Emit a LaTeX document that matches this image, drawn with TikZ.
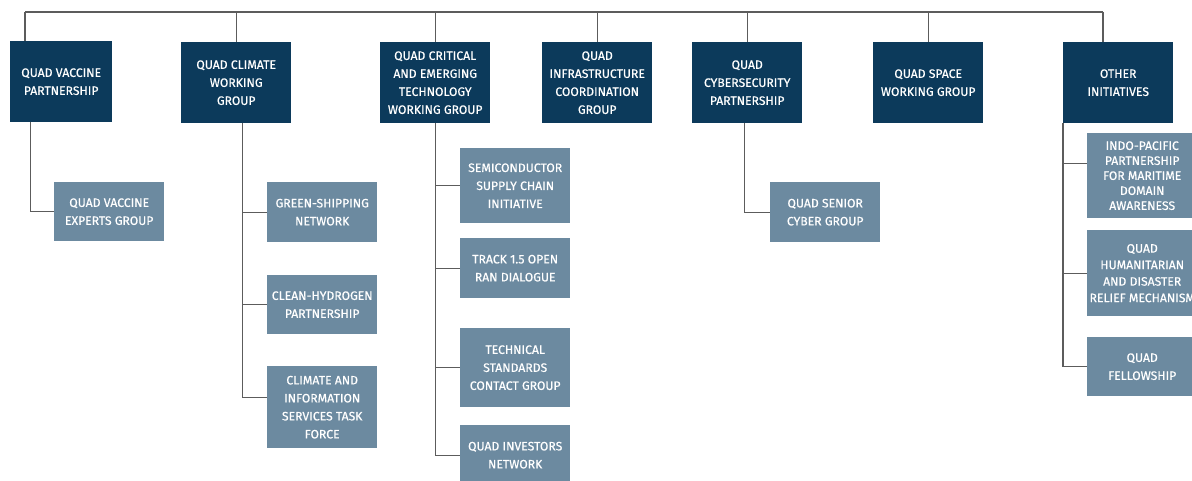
\documentclass[tikz,border=0pt]{standalone}
\usepackage{fontspec}
\setmainfont{Fira Sans}[FakeBold=0.5]
\usetikzlibrary{positioning}
\definecolor{quadnavy}{HTML}{0C3A5B}
\definecolor{quadslate}{HTML}{6C8AA0}
\definecolor{quadline}{HTML}{5C5C5C}

\begin{document}
\begin{tikzpicture}[
    x=1pt, y=-1pt,
    box/.style={%
      rectangle,
      anchor=north west,
      inner sep=0pt,
      align=center,
      text=white,
      font=\fontsize{12.2}{18}\selectfont,
    },
    topbox/.style={box, fill=quadnavy, minimum width=110, minimum height=81},
    subbox/.style={box, fill=quadslate, minimum width=110},
    link/.style={draw=quadline, line width=1.3pt},
  ]
    \useasboundingbox (0,0) rectangle (1192,481);
    \clip (0,0) rectangle (1192,481);

    % top level groups
    \node [topbox, minimum width=102] (vacc) at (10,41) {QUAD VACCINE\\PARTNERSHIP};
    \node [topbox] (clim) at (181,42) {QUAD CLIMATE\\WORKING\\GROUP};
    \node [topbox] (cet) at (380,42) {QUAD CRITICAL\\AND EMERGING\\TECHNOLOGY\\WORKING GROUP};
    \node [topbox] (infra) at (542,42) {QUAD\\INFRASTRUCTURE\\COORDINATION\\GROUP};
    \node [topbox] (cyber) at (692,42) {QUAD\\CYBERSECURITY\\PARTNERSHIP};
    \node [topbox] (space) at (873,42) {QUAD SPACE\\WORKING GROUP};
    \node [topbox] (other) at (1063,42) {OTHER\\INITIATIVES};

    % sub groups
    \node [subbox, minimum height=59] (vexp) at (54,182) {QUAD VACCINE\\EXPERTS GROUP};
    \node [subbox, minimum height=60] (gsn) at (267,182) {GREEN-SHIPPING\\NETWORK};
    \node [subbox, minimum height=59] (chp) at (267,275) {CLEAN-HYDROGEN\\PARTNERSHIP};
    \node [subbox, minimum height=82] (cis) at (267,366) {CLIMATE AND\\INFORMATION\\SERVICES TASK\\FORCE};
    \node [subbox, minimum height=75] (semi) at (460,148) {SEMICONDUCTOR\\SUPPLY CHAIN\\INITIATIVE};
    \node [subbox, minimum height=60] (ran) at (460,238) {TRACK 1.5 OPEN\\RAN DIALOGUE};
    \node [subbox, minimum height=79] (tscg) at (460,328) {TECHNICAL\\STANDARDS\\CONTACT GROUP};
    \node [subbox, minimum height=60] (inv) at (460,425) {QUAD INVESTORS\\NETWORK};
    \node [subbox, minimum height=60] (csg) at (770,182) {QUAD SENIOR\\CYBER GROUP};
    \node [subbox, minimum height=85, font=\fontsize{12.2}{15}\selectfont] (mda) at (1087,133) {INDO-PACIFIC\\PARTNERSHIP\\FOR MARITIME\\DOMAIN\\AWARENESS};
    \node [subbox, minimum height=86, font=\fontsize{12.2}{16.5}\selectfont] (hadr) at (1087,230) {QUAD\\HUMANITARIAN\\AND DISASTER\\RELIEF MECHANISM};
    \node [subbox, minimum height=59] (fell) at (1087,337) {QUAD\\FELLOWSHIP};

    % top bar
    \coordinate (barL) at (25,12);
    \coordinate (barR) at (1103,12);
    \draw [link] (barL) -- (barR);
    \draw [link] (barL) -- (barL |- vacc.north);
    \foreach \n in {clim,cet,infra,cyber,space}
      \draw [link] (\n.north) -- (\n.north |- barL);
    \draw [link] (barR) -- (barR |- other.north);

    % branches
    \draw [link] ([xshift=-30.5]vacc.south) |- (vexp.west);
    \foreach \n in {gsn,chp}
      \draw [link] ([xshift=6.5]clim.south) |- (\n.west);
    \draw [link] ([xshift=6.5]clim.south) |- ([yshift=10]cis.west);
    \foreach \n in {semi,ran,tscg,inv}
      \draw [link] (cet.south) |- (\n.west);
    \draw [link] ([xshift=-2.5]cyber.south) |- (csg.west);
    \draw [link] (other.south west) |- ([yshift=12]mda.west);
    \foreach \n in {hadr,fell}
      \draw [link] (other.south west) |- (\n.west);
\end{tikzpicture}
\end{document}
